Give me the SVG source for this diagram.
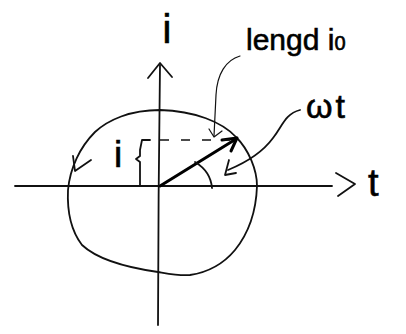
<svg xmlns="http://www.w3.org/2000/svg" width="406" height="334" viewBox="0 0 406 334">
<style>
.ln{fill:none;stroke:#111;stroke-width:1.8;stroke-linecap:round;stroke-linejoin:round}
.thin{fill:none;stroke:#111;stroke-width:1.2;stroke-linecap:round;stroke-linejoin:round}
.thick{fill:none;stroke:#000;stroke-width:3;stroke-linecap:round;stroke-linejoin:round}
.dash{fill:none;stroke:#111;stroke-width:1.5;stroke-dasharray:9 12}
.tx{font-family:"Liberation Sans",Arial,sans-serif;fill:#000;stroke:#000;stroke-width:0.6}
</style>
<rect width="406" height="334" fill="#fff"/>
<g id="axes">
<path class="ln" d="M15,186 L332,186"/>
<path class="ln" d="M336,173 L355,184 L338,196"/>
<path class="ln" d="M160,65 C159,150 158,240 158,325"/>
<path class="ln" d="M148,78 L160,63 L172,77"/>
</g>
<g id="circle">
<path class="ln" d="M257,186 C257,170 249,150 236,137 C222,122 195,111 160,110 C130,110 108,120 95,132 C80,147 70,168 68,190 C67,212 72,232 82,245 C98,260 130,268 158,272 C170,274 180,276 190,275 C210,272 225,262 235,250 C248,234 256,215 257,186"/>
<path class="ln" d="M73,156 L75,171 L91,160"/>
</g>
<g id="vector">
<path class="thick" d="M160,186 L236,139"/>
<path class="thick" d="M222,140 L237,138 L231,151"/>
<path class="dash" d="M160,140 L230,140"/>
<path class="ln" d="M195,162 C205,168 211,176 212,188"/>
</g>
<g id="bracket">
<path class="ln" d="M150,140 L142,140 L140,150 L140,156 L136,159 L140,162 L140,186 L152,186"/>
</g>
<g id="connectors">
<path class="thin" d="M240,56 C226,60 217,74 216,95 L214,136"/>
<path class="thin" d="M209,129 L214,137 L222,131"/>
<path class="ln" d="M300,110 C285,114 283,125 273,138 C262,153 245,163 228,170"/>
<path class="ln" d="M229,160 L225,175 L236,173"/>
</g>
<g id="labels">
<text class="tx" x="167" y="43" font-size="40" text-anchor="middle">i</text>
<text class="tx" x="118" y="167" font-size="37" text-anchor="middle">i</text>
<text class="tx" x="246" y="50" font-size="30">lengd i<tspan font-size="20">0</tspan></text>
<text class="tx" x="306" y="118" font-size="34" letter-spacing="3">ωt</text>
<text class="tx" x="368" y="196" font-size="38">t</text>
</g>
</svg>
